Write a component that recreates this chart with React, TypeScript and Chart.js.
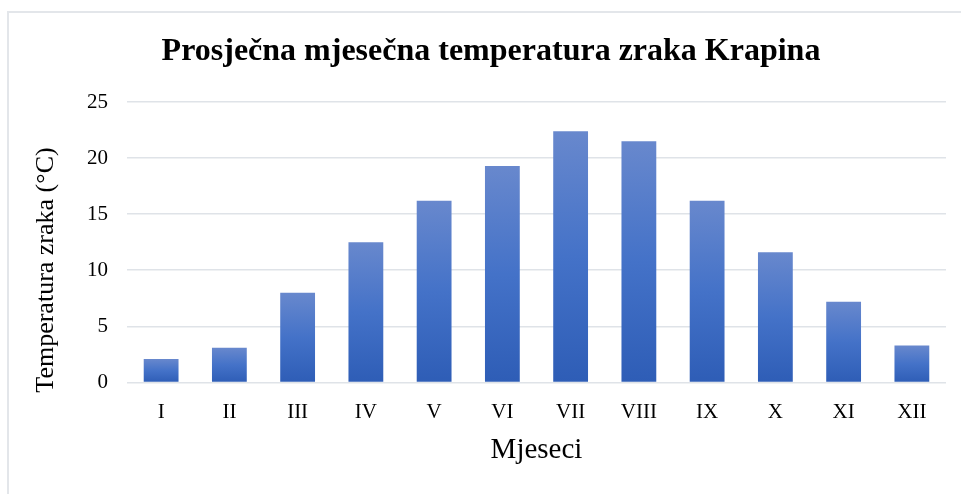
import React, { useEffect, useRef } from "react";
import { Chart, registerables } from "chart.js";

Chart.register(...registerables);

const months = ["I", "II", "III", "IV", "V", "VI", "VII", "VIII", "IX", "X", "XI", "XII"];
const temperatures = [2.1, 3.1, 8.0, 12.5, 16.2, 19.3, 22.4, 21.5, 16.2, 11.6, 7.2, 3.3];
const yTicks = [0, 5, 10, 15, 20, 25];

const titleText = "Prosječna mjesečna temperatura zraka Krapina";
const xTitleText = "Mjeseci";
const yTitleText = "Temperatura zraka (°C)";

const FONT = "'Liberation Serif', 'Times New Roman', serif";

const yTitlePlugin = {
  id: "yTitle",
  afterDraw(chart: any) {
    const ctx = chart.ctx;
    ctx.save();
    ctx.font = `26px ${FONT}`;
    ctx.fillStyle = "#000";
    ctx.textAlign = "center";
    ctx.textBaseline = "middle";
    ctx.translate(46, 270);
    ctx.rotate(-Math.PI / 2);
    ctx.fillText(yTitleText, 0, 0);
    ctx.restore();
  },
};

export default function App() {
  const ref = useRef<HTMLCanvasElement>(null);
  useEffect(() => {
    if (!ref.current) return;
    const chart = new Chart(ref.current, {
      type: "bar",
      data: {
        labels: months,
        datasets: [
          {
            data: temperatures,
            barPercentage: 0.51,
            categoryPercentage: 1,
            backgroundColor: (c: any) => {
              const ch = c.chart;
              const ys = ch.scales && ch.scales.y;
              if (!ys || c.raw == null) return "#4472c4";
              const top = ys.getPixelForValue(c.raw);
              const bot = ys.getPixelForValue(0);
              if (!isFinite(top) || !isFinite(bot) || top === bot) return "#4472c4";
              const g = ch.ctx.createLinearGradient(0, top, 0, bot);
              g.addColorStop(0, "#6888cd");
              g.addColorStop(0.5, "#4472c8");
              g.addColorStop(1, "#2e5db6");
              return g;
            },
            borderWidth: 0,
          },
        ],
      },
      options: {
        animation: false,
        responsive: false,
        layout: { padding: { left: 36, right: 15, top: 0, bottom: 0 } },
        plugins: {
          legend: { display: false },
          tooltip: { enabled: false },
          title: {
            display: true,
            text: titleText,
            color: "#000",
            font: { family: FONT, size: 32, weight: "bold" },
            padding: { top: 33, bottom: 30.6 },
          },
        },
        scales: {
          x: {
            grid: { display: false, drawTicks: false },
            border: { display: false },
            ticks: {
              color: "#000",
              font: { family: FONT, size: 21 },
              padding: 17,
            },
            title: {
              display: true,
              text: xTitleText,
              color: "#000",
              font: { family: FONT, size: 29 },
              padding: { top: 0, bottom: 26.6 },
            },
            afterFit: (s: any) => {
              s.height = 111.5;
            },
          },
          y: {
            min: 0,
            max: 25,
            afterBuildTicks: (s: any) => {
              s.ticks = yTicks.map((v) => ({ value: v }));
            },
            grid: { color: "#dfe3e8", lineWidth: 1.6, drawTicks: false },
            border: { display: false },
            ticks: {
              color: "#000",
              font: { family: FONT, size: 21 },
              padding: 19,
            },
            afterFit: (s: any) => {
              s.width = 91;
            },
          },
        },
      },
      plugins: [yTitlePlugin],
    });
    return () => chart.destroy();
  }, []);

  return (
    <div style={{ position: "absolute", left: 0, top: 0, width: 961, height: 494, overflow: "hidden", background: "#fff" }}>
      <div
        style={{
          position: "absolute",
          left: 7,
          top: 11,
          width: 954,
          height: 483,
          borderTop: "2px solid #e3e6ea",
          borderLeft: "2px solid #e3e6ea",
          boxSizing: "border-box",
        }}
      />
      <canvas ref={ref} width={961} height={494} style={{ position: "absolute", left: 0, top: 0, width: 961, height: 494 }} />
    </div>
  );
}
